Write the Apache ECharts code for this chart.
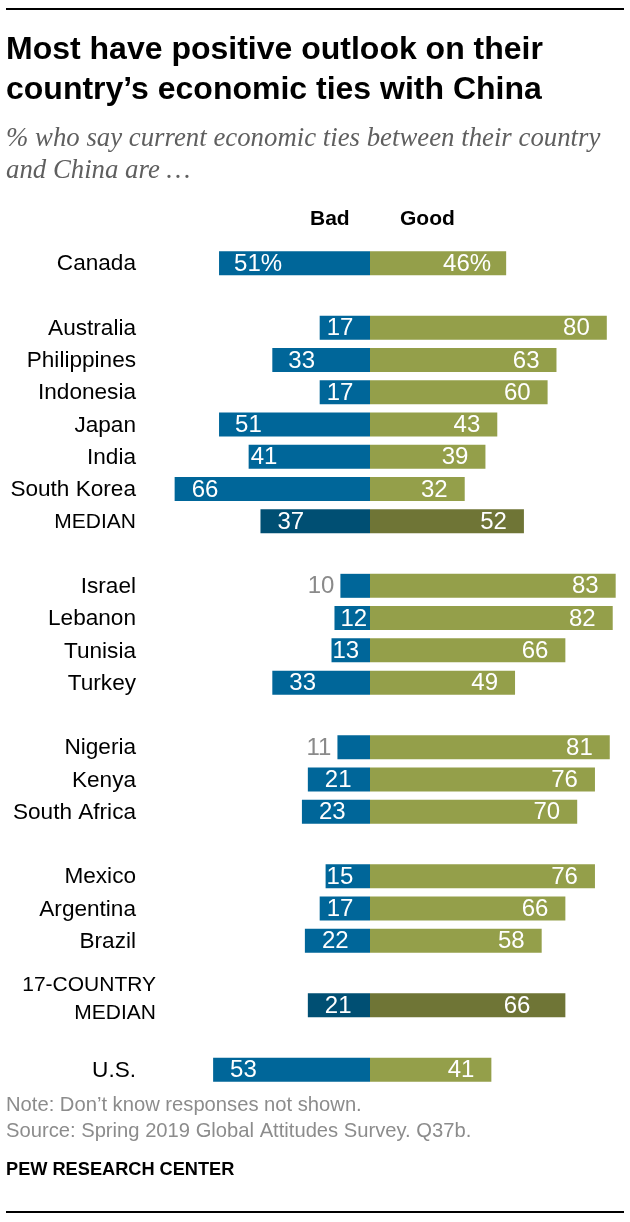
<!DOCTYPE html>
<html>
<head>
<meta charset="utf-8">
<title>Economic ties with China</title>
<script src="https://cdn.jsdelivr.net/npm/echarts@6/dist/echarts.min.js"></script>
<style>
  html, body { margin: 0; padding: 0; background: #fff; }
  #chart { width: 630px; height: 1222px; }
</style>
</head>
<body>
<div id="chart"></div>
<script>
// null rows are the gaps between country groups
const countries = ['Canada', null, 'Australia', 'Philippines', 'Indonesia', 'Japan', 'India', 'South Korea', 'MEDIAN', null,
    'Israel', 'Lebanon', 'Tunisia', 'Turkey', null, 'Nigeria', 'Kenya', 'South Africa', null,
    'Mexico', 'Argentina', 'Brazil', null, '17-COUNTRY MEDIAN', null, 'U.S.'];
const badValues = [51, null, 17, 33, 17, 51, 41, 66, 37, null, 10, 12, 13, 33, null, 11, 21, 23, null, 15, 17, 22, null, 21, null, 53];
const goodValues = [46, null, 80, 63, 60, 43, 39, 32, 52, null, 83, 82, 66, 49, null, 81, 76, 70, null, 76, 66, 58, null, 66, null, 41];

const medianRows = ['MEDIAN', '17-COUNTRY MEDIAN'];
const outsideRows = ['Israel', 'Nigeria'];

const BLUE = '#006699', BLUE_DARK = '#004f73';
const GREEN = '#949f4a', GREEN_DARK = '#6f7536';
const SANS = '"Liberation Sans", sans-serif';
const SERIF = '"Liberation Serif", serif';

// the source nudges a few labels by hand
const badInset = { Canada: 15, Japan: 16, Philippines: 16, India: 2, Australia: 7, Indonesia: 7, Mexico: 1, Argentina: 7, Lebanon: 6, Tunisia: 1 };
const goodInset = { Canada: 15, '17-COUNTRY MEDIAN': 35 };

function pct(row, value) {
    return row === 'Canada' ? value + '%' : String(value);
}

const badData = countries.map((name, i) => {
    if (name === null) return null;
    const outside = outsideRows.includes(name);
    return {
        value: -badValues[i],
        itemStyle: { color: medianRows.includes(name) ? BLUE_DARK : BLUE },
        label: outside
            ? { position: 'left', distance: 6, color: '#8a8a8a' }
            : { position: 'insideLeft', distance: badInset[name] !== undefined ? badInset[name] : 17 }
    };
});

const goodData = countries.map((name, i) => {
    if (name === null) return null;
    return {
        value: goodValues[i],
        itemStyle: { color: medianRows.includes(name) ? GREEN_DARK : GREEN },
        label: { position: 'insideRight', distance: goodInset[name] !== undefined ? goodInset[name] : 17 }
    };
});

function plainText(x, y, text, font, fill) {
    return { type: 'text', left: x, top: y, style: { text: text, font: font, fill: fill } };
}

const valueLabel = {
    show: true,
    color: '#fff',
    fontFamily: SANS,
    fontSize: 24,
    offset: [0, 1],
    formatter: p => pct(countries[p.dataIndex], Math.abs(p.value))
};

const chart = echarts.init(document.getElementById('chart'), null, { renderer: 'canvas' });

chart.setOption({
    animation: false,
    backgroundColor: '#fff',
    textStyle: { fontFamily: SANS },
    grid: { left: 162.8, top: 247, width: 455.84, height: 839 },
    xAxis: { type: 'value', min: -70, max: 84, show: false },
    yAxis: {
        type: 'category',
        inverse: true,
        data: countries.map(c => c === null ? '' : c),
        axisLine: { show: false },
        axisTick: { show: false },
        splitLine: { show: false },
        axisLabel: {
            interval: 0,
            margin: 6.8,
            align: 'right',
            formatter: v => {
                if (v === '17-COUNTRY MEDIAN') return '{wide|17-COUNTRY}\n{wide|MEDIAN}\n{spacer| }';
                if (v === 'MEDIAN') return '{caps|' + v + '}';
                return v ? '{row|' + v + '}' : '';
            },
            rich: {
                row: { fontFamily: SANS, fontSize: 22.6, color: '#000', padding: [2, 20, 0, 0] },
                caps: { fontFamily: SANS, fontSize: 21, color: '#000', padding: [2, 20, 0, 0] },
                wide: { fontFamily: SANS, fontSize: 21, color: '#000', lineHeight: 28 },
                spacer: { fontSize: 10, lineHeight: 12 }
            }
        }
    },
    series: [
        { name: 'Bad', type: 'bar', stack: 'ties', barWidth: 24, data: badData, label: valueLabel },
        { name: 'Good', type: 'bar', stack: 'ties', barWidth: 24, data: goodData, label: valueLabel }
    ],
    graphic: [
        { type: 'rect', shape: { x: 6, y: 8, width: 618, height: 2 }, style: { fill: '#000' } },
        { type: 'rect', shape: { x: 6, y: 1211, width: 618, height: 2 }, style: { fill: '#000' } },
        plainText(6, 34, 'Most have positive outlook on their', 'bold 32px ' + SANS, '#000'),
        plainText(6, 74, 'country\u2019s economic ties with China', 'bold 32px ' + SANS, '#000'),
        plainText(6, 125, '% who say current economic ties between their country', 'italic 26.8px ' + SERIF, '#5f5f5f'),
        plainText(6, 157, 'and China are \u2026', 'italic 26.8px ' + SERIF, '#5f5f5f'),
        plainText(310, 209, 'Bad', 'bold 21px ' + SANS, '#000'),
        plainText(400, 209, 'Good', 'bold 21px ' + SANS, '#000'),
        plainText(6, 1095, 'Note: Don\u2019t know responses not shown.', '20.2px ' + SANS, '#8c8c8c'),
        plainText(6, 1121, 'Source: Spring 2019 Global Attitudes Survey. Q37b.', '20.2px ' + SANS, '#8c8c8c'),
        plainText(6, 1161, 'PEW RESEARCH CENTER', 'bold 18.2px ' + SANS, '#000')
    ]
});
</script>
</body>
</html>
